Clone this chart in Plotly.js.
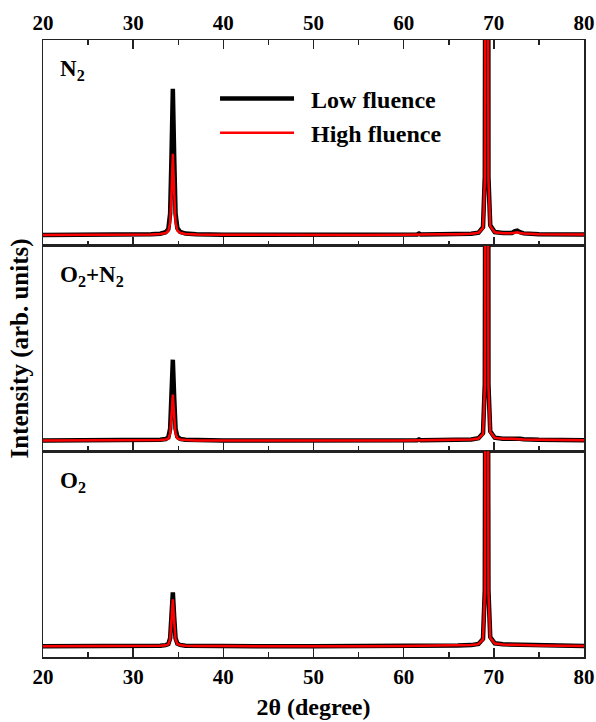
<!DOCTYPE html>
<html>
<head>
<meta charset="utf-8">
<script src="https://cdn.plot.ly/plotly-3.0.1.min.js"></script>
<style>html,body{margin:0;padding:0;background:#fff;}#plot{width:596px;height:722px;}</style>
</head>
<body>
<div id="plot"></div>
<script>
// 2θ positions (degree)
const twoTheta = [20, 25, 30, 32, 33, 33.6, 33.9, 34.1, 34.25, 34.4, 34.55, 34.7, 34.9, 35.2, 35.8, 37, 40, 45, 50, 55, 60, 61.5, 61.7, 61.9, 64, 66, 67.5, 68.3, 68.8, 69.0, 69.1, 69.2, 69.3, 69.4, 69.6, 70.1, 71, 72.0, 72.3, 72.6, 72.9, 73.3, 75, 80];

// N2 panel
const n2Low  = [0, 0, 1, 3, 6, 14, 30, 110, 400, 750, 400, 110, 35, 16, 7, 3, 1, 0, 0, 0, 1, 2, 7, 2, 3, 4, 6, 12, 40, 300, 3000, 20000, 3000, 300, 50, 15, 10, 10, 18, 22, 14, 8, 4, 2];
const n2High = [0, 0, 1, 2, 5, 10, 20, 65, 220, 416, 220, 65, 22, 11, 5, 2, 1, 0, 0, 0, 1, 2, 5, 2, 3, 4, 6, 11, 36, 280, 2800, 19000, 2800, 280, 45, 14, 9, 9, 12, 14, 10, 7, 4, 2];
// O2+N2 panel
const onLow  = [0, 0, 1, 2, 4, 8, 17, 61, 221, 415, 221, 61, 20, 9, 4, 2, 1, 0, 0, 0, 1, 2, 6, 2, 3, 4, 6, 12, 38, 290, 2900, 19500, 2900, 290, 48, 15, 10, 10, 12, 13, 10, 7, 4, 2];
const onHigh = [0, 0, 1, 2, 3, 6, 10, 36, 126, 236, 126, 36, 12, 6, 3, 1, 1, 0, 0, 0, 1, 2, 4, 2, 3, 4, 6, 11, 35, 275, 2750, 18500, 2750, 275, 44, 14, 9, 9, 9, 9, 8, 6, 4, 2];
// O2 panel
const o2Low  = [0, 0, 1, 2, 3, 6, 11, 41, 148, 277, 148, 41, 14, 7, 3, 2, 1, 0, 0, 0, 1, 2, 5, 2, 3, 4, 6, 12, 38, 290, 2900, 19500, 2900, 290, 48, 15, 10, 9, 10, 10, 9, 7, 4, 2];
const o2High = [0, 0, 1, 2, 3, 5, 10, 36, 128, 241, 128, 36, 12, 6, 3, 1, 1, 0, 0, 0, 1, 2, 4, 2, 3, 4, 6, 11, 35, 275, 2750, 18500, 2750, 275, 44, 14, 9, 8, 8, 8, 7, 6, 4, 2];

const seriesNames = ['\u2002Low fluence', '\u2002High fluence'];
const panelLabels = ['N<sub>2</sub>', 'O<sub>2</sub>+N<sub>2</sub>', 'O<sub>2</sub>'];
const tickVals = [20, 30, 40, 50, 60, 70, 80];

const FONT = 'Liberation Serif, Times New Roman, serif';
const lowStyle  = {color: '#000000', width: 4.5};
const highStyle = {color: '#ff0000', width: 2.5};

const panels = [
  {low: n2Low, high: n2High, x: 'x',  y: 'y'},
  {low: onLow, high: onHigh, x: 'x2', y: 'y2'},
  {low: o2Low, high: o2High, x: 'x3', y: 'y3'}
];

const traces = [];
panels.forEach((p, i) => {
  traces.push({x: twoTheta, y: p.low, xaxis: p.x, yaxis: p.y, type: 'scatter', mode: 'lines',
    line: lowStyle, name: seriesNames[0], showlegend: i === 0});
  traces.push({x: twoTheta, y: p.high, xaxis: p.x, yaxis: p.y, type: 'scatter', mode: 'lines',
    line: highStyle, name: seriesNames[1], showlegend: i === 0});
});

const third = 1 / 3;
const baseX = {
  range: [20, 80], tickvals: tickVals, ticks: 'inside', ticklen: 9, tickwidth: 1.5, tickcolor: '#222',
  showline: true, linecolor: '#222', linewidth: 1.5, showgrid: false, zeroline: false,
  minor: {ticks: 'inside', dtick: 5, tick0: 25, ticklen: 5, tickwidth: 1.5, tickcolor: '#222', showgrid: false},
  tickfont: {family: FONT, size: 21, color: '#000', weight: 'bold'}
};
const baseY = {
  range: [-55, 1000], showline: true, mirror: true, linecolor: '#222', linewidth: 1.5,
  ticks: '', showticklabels: false, showgrid: false, zeroline: false
};

const layout = {
  width: 596, height: 722,
  margin: {l: 43, r: 12, t: 40, b: 65},
  paper_bgcolor: '#ffffff', plot_bgcolor: '#ffffff',
  font: {family: FONT, color: '#000', weight: 'bold'},
  showlegend: true,
  legend: {x: 0.318, y: 0.941, xanchor: 'left', yanchor: 'top', bgcolor: 'rgba(0,0,0,0)',
    font: {family: FONT, size: 24, color: '#000', weight: 'bold'}, itemwidth: 74, tracegroupgap: 0},
  xaxis:  Object.assign({}, baseX, {anchor: 'y', side: 'top', mirror: 'ticks', showticklabels: true}),
  xaxis2: Object.assign({}, baseX, {anchor: 'y2', side: 'bottom', mirror: true, showticklabels: false}),
  xaxis3: Object.assign({}, baseX, {anchor: 'y3', side: 'bottom', mirror: true, showticklabels: true,
    title: {text: '2θ (degree)', font: {family: FONT, size: 24, color: '#000', weight: 'bold'}, standoff: 10}}),
  yaxis:  Object.assign({}, baseY, {domain: [2 * third, 1]}),
  yaxis2: Object.assign({}, baseY, {domain: [third, 2 * third],
    title: {text: 'Intensity (arb. units)', font: {family: FONT, size: 25, color: '#000', weight: 'bold'}, standoff: 6}}),
  yaxis3: Object.assign({}, baseY, {domain: [0, third]}),
  annotations: panelLabels.map((t, i) => ({
    text: t, xref: 'x' + (i === 0 ? '' : i + 1) + ' domain', yref: 'y' + (i === 0 ? '' : i + 1) + ' domain',
    x: 0.028, y: 0.93, xanchor: 'left', yanchor: 'top', showarrow: false,
    font: {family: FONT, size: 23, color: '#000', weight: 'bold'}
  }))
};

Plotly.newPlot('plot', traces, layout, {displayModeBar: false, staticPlot: true});
</script>
</body>
</html>
